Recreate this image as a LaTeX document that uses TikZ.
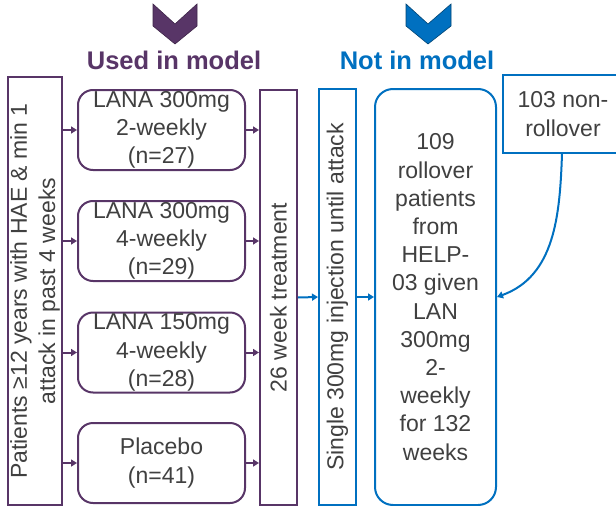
\documentclass[tikz,border=0pt]{standalone}
\usepackage{fontspec}
\setmainfont{Liberation Sans}
\usetikzlibrary{arrows.meta}
\definecolor{modelpurple}{HTML}{583567}
\definecolor{modelblue}{HTML}{0070C0}
\definecolor{txtgray}{HTML}{404040}
\tikzset{
  pbox/.style={draw=modelpurple, line width=2pt, text=txtgray, align=center, inner sep=0pt},
  bbox/.style={draw=modelblue, line width=2pt, text=txtgray, align=center, inner sep=0pt},
  parrow/.style={modelpurple, line width=2pt, -{Triangle[length=6pt,width=7pt]}},
  barrow/.style={modelblue, line width=2pt, -{Triangle[length=6pt,width=7pt]}},
  chev/.style={line width=0.6pt},
}
\begin{document}
\begin{tikzpicture}[x=1pt,y=-1pt,font=\fontsize{23}{28.2}\selectfont]
  \clip (0,0) rectangle (616,506);
  % chevrons and headers
  \filldraw[chev, fill=modelpurple, draw=modelpurple!70!black]
    (153,4) -- (175,24) -- (197,4) -- (197,26) -- (175,44) -- (153,26) -- cycle;
  \filldraw[chev, fill=modelblue, draw=modelblue!60!black]
    (406,4) -- (428,24) -- (451,4) -- (451,26) -- (428,44) -- (406,26) -- cycle;
  \node[modelpurple, font=\fontsize{25.5}{30}\selectfont\bfseries] (used) at (174,60) {Used in model};
  \node[modelblue, font=\fontsize{25.5}{30}\selectfont\bfseries] (notused) at (417,60) {Not in model};
  % patients
  \node[pbox, rotate=90, minimum width=428, minimum height=54] (pat) at (35,291)
    {Patients ≥12 years with HAE \& min 1\\attack in past 4 weeks};
  % arms
  \node[pbox, rounded corners=15pt, minimum width=167, minimum height=80] (arm1) at (161.5,130)
    {LANA 300mg\\2-weekly\\(n=27)};
  \node[pbox, rounded corners=15pt, minimum width=167, minimum height=80] (arm2) at (161.5,241)
    {LANA 300mg\\4-weekly\\(n=29)};
  \node[pbox, rounded corners=15pt, minimum width=167, minimum height=80] (arm3) at (161.5,352.5)
    {LANA 150mg\\4-weekly\\(n=28)};
  \node[pbox, rounded corners=15pt, minimum width=167, minimum height=80] (arm4) at (161.5,463)
    {Placebo\\(n=41)};
  \node[pbox, rotate=90, minimum width=415, minimum height=37] (treat) at (278.5,297.5)
    {26 week treatment};
  % not in model
  \node[bbox, rotate=90, minimum width=416, minimum height=37] (inj) at (337.5,297)
    {Single 300mg injection until attack};
  \node[bbox, rounded corners=18pt, minimum width=121, minimum height=416] (roll) at (435.5,297)
    {109\\rollover\\patients\\from\\HELP-\\03 given\\LAN\\300mg\\2-\\weekly\\for 132\\weeks};
  \node[bbox, minimum width=120, minimum height=78] (nonroll) at (563,114)
    {103 non-\\rollover};
  % connectors
  \foreach \a in {arm1,arm2,arm3,arm4} {
    \draw[parrow] (\a.west -| pat.south) -- (\a.west);
    \draw[parrow] (\a.east) -- (\a.east -| treat.north);
  }
  \draw[barrow] (treat.south) -- (inj.north);
  \draw[barrow] (inj.south) -- (roll.west);
  \draw[barrow] (nonroll.south -| 562,0) to[out=-92, in=20] (roll.east);
\end{tikzpicture}
\end{document}
